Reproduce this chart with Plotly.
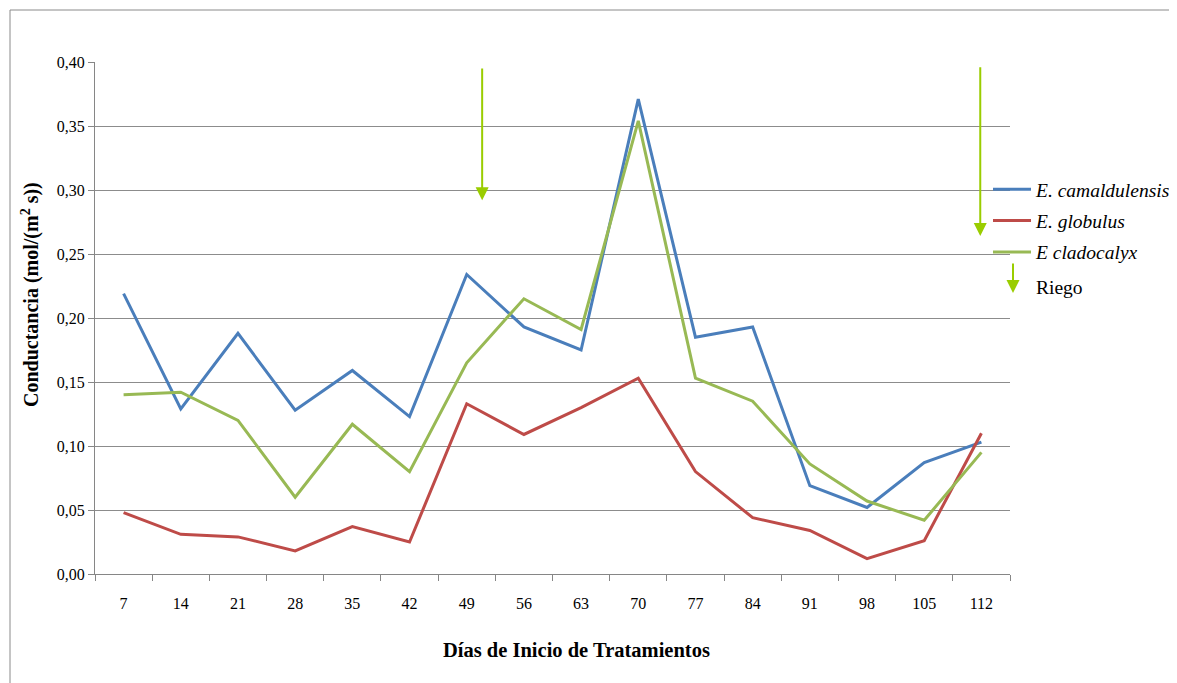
import plotly.graph_objects as go

days = ["7", "14", "21", "28", "35", "42", "49", "56", "63", "70", "77", "84", "91", "98", "105", "112"]
camaldulensis = [0.219, 0.129, 0.188, 0.128, 0.159, 0.123, 0.234, 0.193, 0.175, 0.371, 0.185, 0.193, 0.069, 0.052, 0.087, 0.103]
globulus = [0.048, 0.031, 0.029, 0.018, 0.037, 0.025, 0.133, 0.109, 0.130, 0.153, 0.080, 0.044, 0.034, 0.012, 0.026, 0.110]
cladocalyx = [0.140, 0.142, 0.120, 0.060, 0.117, 0.080, 0.165, 0.215, 0.191, 0.354, 0.153, 0.135, 0.086, 0.057, 0.042, 0.095]
# Riego (irrigation) arrows: category position, top value, tip value
riego_x = [6.27, 14.98]
riego_top = [0.396, 0.397]
riego_tip = [0.292, 0.264]

FONT = "Liberation Serif"
ARROW = "#9ACD00"
OFF = 8  # page body margin
W, H = 1177, 683
L, R, T, B = 95 - OFF, 167 + OFF, 62 - OFF, 109 + OFF
PW, PH = W - L - R, H - T - B

def px(xp):
    return (xp - OFF - L) / PW

def py(yp):
    return (H - B - (yp - OFF)) / PH

fig = go.Figure()
series = [("<i>E. camaldulensis</i>", camaldulensis, "#4A7EBB"),
          ("<i>E. globulus</i>", globulus, "#BE4B48"),
          ("<i>E cladocalyx</i>", cladocalyx, "#98B954")]
for i, (name, vals, col) in enumerate(series):
    fig.add_trace(go.Scatter(x=days, y=vals, mode="lines", name=name,
                             legendgroup=f"g{i}",
                             line=dict(color=col, width=3)))

for xv, yt, yb in zip(riego_x, riego_top, riego_tip):
    fig.add_annotation(x=xv, y=yb, ax=xv, ay=yt, xref="x", yref="y",
                       axref="x", ayref="y", text="", showarrow=True,
                       arrowhead=2, arrowsize=1.3, arrowwidth=2,
                       arrowcolor=ARROW, standoff=0, startstandoff=0)

# Riego legend item
fig.add_annotation(x=px(1013), y=py(293), ax=0, ay=-31,
                   xref="paper", yref="paper", axref="pixel", ayref="pixel",
                   text="", showarrow=True, arrowhead=2, arrowsize=1.3,
                   arrowwidth=2, arrowcolor=ARROW, standoff=0)
fig.add_annotation(x=px(1034), y=py(287), xref="paper", yref="paper",
                   text="Riego", showarrow=False, xanchor="left", yanchor="middle",
                   font=dict(family=FONT, size=19.5, color="#000"))

# axis titles
fig.add_annotation(x=px(30), y=py(295), xref="paper", yref="paper",
                   text="<b>Conductancia (mol/(m<sup>2</sup> s))</b>", textangle=-90,
                   showarrow=False, xanchor="center", yanchor="middle",
                   font=dict(family=FONT, size=20, color="#000"))
fig.add_annotation(x=px(576), y=py(650), xref="paper", yref="paper",
                   text="<b>Días de Inicio de Tratamientos</b>",
                   showarrow=False, xanchor="center", yanchor="middle",
                   font=dict(family=FONT, size=20.5, color="#000"))

# outer frame
fig.add_shape(type="rect", xref="paper", yref="paper",
              x0=px(10), x1=px(1220), y0=py(720), y1=py(10),
              line=dict(color="#8a8a8a", width=1), layer="below")

fig.update_layout(
    width=W, height=H,
    margin=dict(l=L, r=R, t=T, b=B, autoexpand=False),
    paper_bgcolor="white", plot_bgcolor="white",
    separators=", ",
    font=dict(family=FONT, size=16, color="#000"),
    showlegend=True,
    legend=dict(x=px(988), y=py(170), xanchor="left", yanchor="top",
                font=dict(family=FONT, size=19.5, color="#000"),
                tracegroupgap=3, bgcolor="rgba(0,0,0,0)", itemwidth=38),
    xaxis=dict(type="category", tickson="boundaries", ticks="outside",
               ticklen=6, tickcolor="#868686", showline=True,
               linecolor="#868686", linewidth=1, showgrid=False,
               range=[-0.5, 15.5], ticklabelstandoff=15,
               tickfont=dict(family=FONT, size=16, color="#000")),
    yaxis=dict(range=[0, 0.40], dtick=0.05, tickformat=".2f",
               ticks="outside", ticklen=6, tickcolor="#868686",
               showline=True, linecolor="#868686", linewidth=1,
               showgrid=True, gridcolor="#8c8c8c", gridwidth=1,
               zeroline=False,
               tickfont=dict(family=FONT, size=16, color="#000")),
)

fig.write_html("out.html")
